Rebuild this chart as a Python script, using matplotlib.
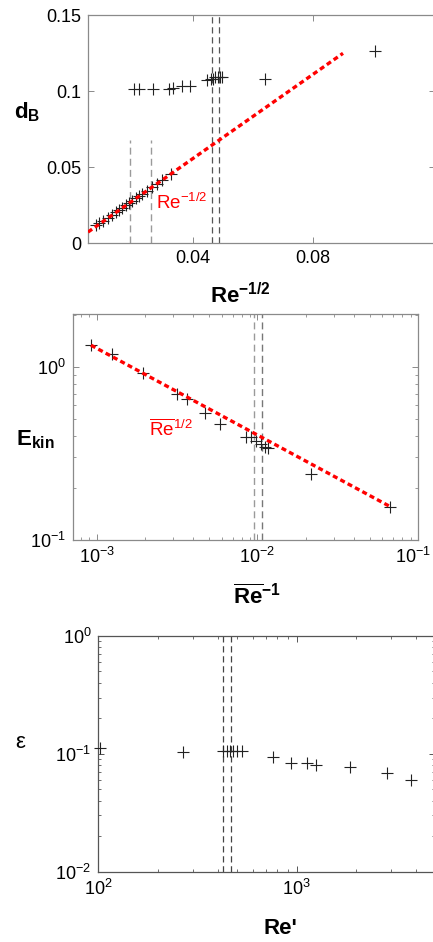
import numpy as np
import matplotlib
matplotlib.use("Agg")
import matplotlib.pyplot as plt
import matplotlib.transforms as mtransforms
from matplotlib.ticker import FixedLocator, LogLocator, NullFormatter, LogFormatterSciNotation

plt.rcParams['font.family'] = ['Liberation Sans', 'DejaVu Sans']
plt.rcParams['mathtext.fontset'] = 'custom'
plt.rcParams['mathtext.rm'] = 'Liberation Sans'
plt.rcParams['mathtext.it'] = 'Liberation Sans:italic'
plt.rcParams['mathtext.bf'] = 'Liberation Sans:bold'

# ---------------- Panel 1 data: d_B vs Re^{-1/2} ----------------
p1_low_x = [0.0078, 0.0087, 0.0101, 0.0116, 0.0129, 0.0142, 0.0153, 0.0164, 0.0176, 0.0187,
            0.0198, 0.0209, 0.0220, 0.0231, 0.0246, 0.0262, 0.0279, 0.0298, 0.0327]
p1_low_y = [0.0120, 0.0130, 0.0148, 0.0166, 0.0184, 0.0201, 0.0217, 0.0232, 0.0248, 0.0263,
            0.0279, 0.0294, 0.0310, 0.0325, 0.0345, 0.0367, 0.0390, 0.0416, 0.0455]
p1_up_x = [0.0203, 0.0220, 0.0267, 0.0320, 0.0333, 0.0363, 0.0390, 0.0447, 0.0460, 0.0467,
           0.0475, 0.0483, 0.0490, 0.0497, 0.0640, 0.1007]
p1_up_y = [0.1010, 0.1010, 0.1010, 0.1015, 0.1020, 0.1030, 0.1030, 0.1070, 0.1080, 0.1080,
           0.1090, 0.1090, 0.1090, 0.1090, 0.1080, 0.1260]
p1_fit_x = [0.005, 0.09]
p1_fit_y = [0.0072, 0.1248]
p1_vlines_short = [0.019, 0.026]
p1_vline_short_top = 0.068
p1_vlines_full = [0.0464, 0.0487]
p1_xticks = [0.04, 0.08]
p1_xticklabels = ['0.04', '0.08']
p1_yticks = [0, 0.05, 0.1, 0.15]
p1_yticklabels = ['0', '0.05', '0.1', '0.15']

# ---------------- Panel 2 data: E_kin vs Re^-1 ----------------
p2_x = [9.17e-4, 1.24e-3, 1.95e-3, 3.16e-3, 3.65e-3, 4.69e-3, 5.84e-3, 8.45e-3, 9.08e-3,
        9.75e-3, 1.05e-2, 1.11e-2, 1.16e-2, 2.15e-2, 6.65e-2]
p2_y = [1.334, 1.18, 0.923, 0.695, 0.648, 0.542, 0.467, 0.394, 0.391, 0.373, 0.357,
        0.345, 0.338, 0.242, 0.155]
p2_fit_x = [9.2e-4, 6.7e-2]
p2_fit_y = [1.332, 0.156]
p2_vlines = [9.53e-3, 1.074e-2]

# ---------------- Panel 3 data: epsilon vs Re' ----------------
p3_x = [102, 266, 427, 443, 461, 479, 502, 528, 762, 933, 1123, 1250, 1857, 2844, 3758]
p3_y = [0.113, 0.1034, 0.1067, 0.1067, 0.1067, 0.1067, 0.1067, 0.1060, 0.0948, 0.0843,
        0.0834, 0.0802, 0.0766, 0.0686, 0.0601]
p3_vlines = [427, 465]

W, H = 433, 942
fig = plt.figure(figsize=(W / 100, H / 100), dpi=100)

def fr(l, t, r, b):
    return [l / W, 1 - b / H, (r - l) / W, (b - t) / H]

TICK_FS = 13
LABEL_FS = 16
mk = dict(marker='+', linestyle='none', color='#222222', markersize=9, markeredgewidth=0.8,
          clip_on=False, zorder=3)
red = dict(color='#ff0000', linewidth=2.4, dashes=(1.5, 1.0), zorder=4)

def style(ax, spine_color):
    for s in ax.spines.values():
        s.set_color(spine_color)
        s.set_linewidth(0.9)
    ax.tick_params(which='both', direction='in', top=True, right=True, color=spine_color,
                   labelsize=TICK_FS, labelcolor='black')
    ax.tick_params(which='major', length=4, width=0.7, pad=5)
    ax.tick_params(which='minor', length=2.5, width=0.6)

# ---- Panel 1 ----
ax1 = fig.add_axes(fr(88, 15, 435.5, 243))
style(ax1, '#8a8a8a')
ax1.set_xlim(0.005, 0.005 + (435.5 - 88) / 3000)
ax1.set_ylim(0, 0.15)
ax1.set_xticks(p1_xticks)
ax1.set_xticklabels(p1_xticklabels)
ax1.set_yticks(p1_yticks)
ax1.set_yticklabels(p1_yticklabels)
for xv in p1_vlines_short:
    ax1.plot([xv, xv], [0, p1_vline_short_top], color='#9a9a9a', linewidth=1.0, dashes=(5, 3), zorder=2)
for xv in p1_vlines_full:
    ax1.axvline(xv, color='#555555', linewidth=0.9, dashes=(5, 3), zorder=2)
ax1.plot(p1_fit_x, p1_fit_y, **red)
ax1.plot(p1_low_x, p1_low_y, **mk)
ax1.plot(p1_up_x, p1_up_y, **mk)
ax1.text(0.0275, 0.0265, r'$\mathregular{Re^{-1/2}}$', color='#ff0000', fontsize=13.5,
         ha='left', va='center', zorder=5)
fig.text(27 / W, 1 - 112 / H, r'$\mathbf{d_B}$', fontsize=LABEL_FS, ha='center', va='center')
fig.text(240 / W, 1 - 296 / H, r'$\mathbf{Re^{-1/2}}$', fontsize=LABEL_FS, ha='center', va='center')

# ---- Panel 2 ----
ax2 = fig.add_axes(fr(73, 314, 418, 540))
style(ax2, '#8a8a8a')
ax2.set_xscale('log')
ax2.set_yscale('log')
ax2.set_xlim(10 ** (-3 - 23.7 / 160), 0.1)
ax2.set_ylim(0.1, 10 ** ((366.7 - 314) / 173))
ax2.xaxis.set_major_locator(FixedLocator([1e-3, 1e-2, 1e-1]))
ax2.yaxis.set_major_locator(FixedLocator([1e-1, 1e0]))
ax2.xaxis.set_minor_locator(LogLocator(base=10, subs=np.arange(2, 10), numticks=20))
ax2.yaxis.set_minor_locator(LogLocator(base=10, subs=np.arange(2, 10), numticks=20))
ax2.xaxis.set_major_formatter(LogFormatterSciNotation())
ax2.yaxis.set_major_formatter(LogFormatterSciNotation())
ax2.xaxis.set_minor_formatter(NullFormatter())
ax2.yaxis.set_minor_formatter(NullFormatter())
ax2.axvline(p2_vlines[0], color='#9a9a9a', linewidth=1.0, dashes=(5, 3), zorder=2)
ax2.axvline(p2_vlines[1], color='#777777', linewidth=1.0, dashes=(5, 3), zorder=2)
ax2.plot(p2_fit_x, p2_fit_y, **red)
ax2.plot(p2_x, p2_y, **mk)
ax2.text(2.1e-3, 0.435, r'$\overline{\mathrm{Re}}^{\mathrm{1/2}}$', color='#ff0000', fontsize=13.5,
         ha='left', va='center', zorder=5)
fig.text(35 / W, 1 - 440 / H, r'$\mathbf{E_{kin}}$', fontsize=LABEL_FS, ha='center', va='center')
fig.text(257 / W, 1 - 597 / H, r'$\mathbf{\overline{Re}^{-1}}$', fontsize=LABEL_FS, ha='center', va='center')
# nudge the right-most tick label so it stays inside the figure, as in the reference
last_tick = ax2.xaxis.get_major_ticks()[-1]
last_tick.label1.set_transform(last_tick.label1.get_transform()
                               + mtransforms.ScaledTranslation(-5 / 100, 0, fig.dpi_scale_trans))

# ---- Panel 3 ----
ax3 = fig.add_axes(fr(98.3, 636, 435.4, 871.7))
style(ax3, '#555555')
ax3.set_xscale('log')
ax3.set_yscale('log')
ax3.set_xlim(100, 5000)
ax3.set_ylim(0.01, 1)
ax3.xaxis.set_major_locator(FixedLocator([1e2, 1e3]))
ax3.yaxis.set_major_locator(FixedLocator([1e-2, 1e-1, 1e0]))
ax3.xaxis.set_minor_locator(LogLocator(base=10, subs=np.arange(2, 10), numticks=20))
ax3.yaxis.set_minor_locator(LogLocator(base=10, subs=np.arange(2, 10), numticks=20))
ax3.xaxis.set_major_formatter(LogFormatterSciNotation())
ax3.yaxis.set_major_formatter(LogFormatterSciNotation())
ax3.xaxis.set_minor_formatter(NullFormatter())
ax3.yaxis.set_minor_formatter(NullFormatter())
for xv in p3_vlines:
    ax3.axvline(xv, color='#444444', linewidth=0.9, dashes=(5, 3), zorder=2)
ax3.plot(p3_x, p3_y, **mk)
fig.text(20 / W, 1 - 743 / H, 'ε', fontsize=LABEL_FS, ha='center', va='center')
fig.text(280 / W, 1 - 928 / H, "Re'", fontsize=LABEL_FS, fontweight='bold', ha='center', va='center')

fig.savefig('out.png', dpi=100)
